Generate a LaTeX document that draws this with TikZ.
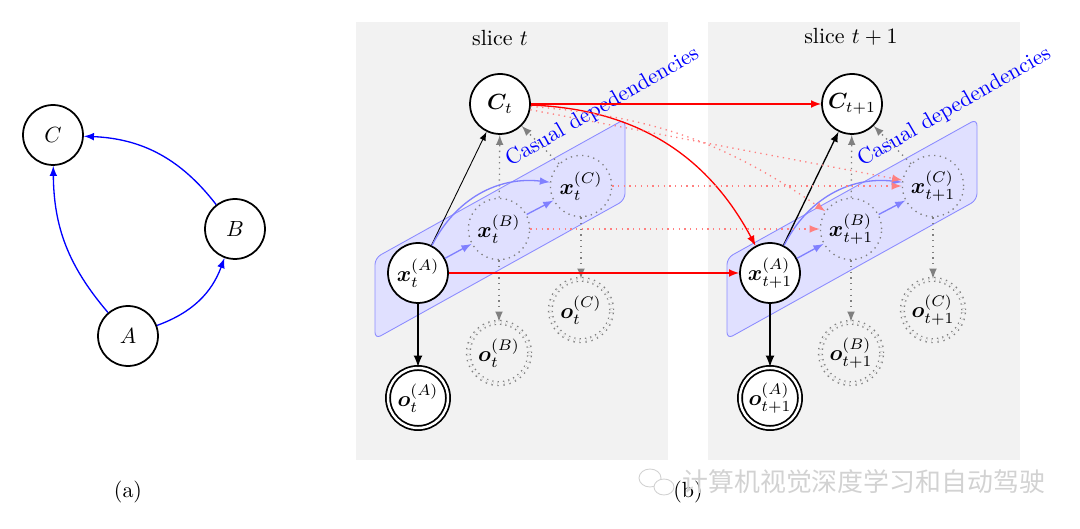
\documentclass[tikz,border=0pt]{standalone}
\usepackage{amsmath,bm}
\usepackage{fontspec}
\newfontfamily\cjk{Noto Sans CJK SC}

\begin{document}
\begin{tikzpicture}[x=0.016cm,y=-0.016cm,
  var/.style={circle,draw,thick,fill=white,minimum size=0.96cm,inner sep=0.5pt},
  obs/.style={var,double,double distance=1.1pt},
  hid/.style={circle,draw=gray,semithick,dotted,minimum size=0.98cm,inner sep=0.5pt},
  hobs/.style={hid,double=black!5,double distance=1.1pt},
  redarr/.style={-latex,red,semithick},
  reddot/.style={-latex,red!50,semithick,dotted},
  grayarr/.style={-latex,gray,semithick,dotted},
  bluearr/.style={-latex,blue!50,semithick},
  plane/.style={blue!45,fill=blue!12,rounded corners=3pt},
  causal/.style={blue,rotate=30,anchor=base west,inner sep=0pt}]

\useasboundingbox (0,0) rectangle (1080,529);

% (a)
\node[var] (C) at (53,135) {$C$};
\node[var] (B) at (235,229) {$B$};
\node[var] (A) at (128,336) {$A$};
\draw[-latex,blue,semithick] (A) to[bend left=20] (C);
\draw[-latex,blue,semithick] (A) to[bend right=25] (B);
\draw[-latex,blue,semithick] (B) to[bend right=25] (C);
\node at (128,492) {(a)};

% slices
\fill[black!5] (356,22) rectangle (668,460);
\fill[black!5] (708,22) rectangle (1020,460);
\node at (500,38) {slice $t$};
\node at (851,37) {slice $t+1$};

\draw[plane] (375,258) -- (625,119) -- (625,200) -- (375,339) -- cycle;
\draw[plane] (727,258) -- (977,119) -- (977,200) -- (727,339) -- cycle;
\node[causal] at (510,167) {Casual depedendencies};
\node[causal] at (862,167) {Casual depedendencies};

% slice t
\node[var] (Ct) at (500,104) {$\bm{C}_t$};
\node[var] (xat) at (418,273) {$\bm{x}_t^{(A)}$};
\node[hid] (xbt) at (499,229) {$\bm{x}_t^{(B)}$};
\node[hid] (xct) at (581,186) {$\bm{x}_t^{(C)}$};
\node[obs] (oat) at (418,398) {$\bm{o}_t^{(A)}$};
\node[hobs] (obt) at (499,353) {$\bm{o}_t^{(B)}$};
\node[hobs] (oct) at (581,310) {$\bm{o}_t^{(C)}$};

% slice t+1
\node[var] (Cn) at (852,104) {$\bm{C}_{t+1}$};
\node[var] (xan) at (770,273) {$\bm{x}_{t+1}^{(A)}$};
\node[hid] (xbn) at (851,229) {$\bm{x}_{t+1}^{(B)}$};
\node[hid] (xcn) at (933,186) {$\bm{x}_{t+1}^{(C)}$};
\node[obs] (oan) at (770,398) {$\bm{o}_{t+1}^{(A)}$};
\node[hobs] (obn) at (851,353) {$\bm{o}_{t+1}^{(B)}$};
\node[hobs] (ocn) at (933,310) {$\bm{o}_{t+1}^{(C)}$};

% inside a slice
\draw[-latex] (xat) -- (Ct);
\draw[-latex,thick] (xat) -- (oat);
\draw[grayarr] (xbt) -- (Ct);
\draw[grayarr] (xct) -- (Ct);
\draw[grayarr] (xbt) -- (obt);
\draw[grayarr] (xct) -- (oct);
\draw[bluearr] (xat) -- (xbt);
\draw[bluearr] (xbt) -- (xct);
\draw[bluearr] (xat) to[bend left=35] (xct);

\draw[-latex,semithick] (xan) -- (Cn);
\draw[-latex,thick] (xan) -- (oan);
\draw[grayarr] (xbn) -- (Cn);
\draw[grayarr] (xcn) -- (Cn);
\draw[grayarr] (xbn) -- (obn);
\draw[grayarr] (xcn) -- (ocn);
\draw[bluearr] (xan) -- (xbn);
\draw[bluearr] (xbn) -- (xcn);
\draw[bluearr] (xan) to[bend left=35] (xcn);

% across slices
\draw[redarr] (Ct) -- (Cn);
\draw[redarr] (Ct) to[bend left=30] (xan);
\draw[redarr] (xat) -- (xan);
\draw[reddot] (Ct) -- (xcn);
\draw[reddot] (Ct) to[bend left=15] (xbn);
\draw[reddot] (xbt) -- (xbn);
\draw[reddot] (xct) -- (xcn);

\node at (688,492) {(b)};

% watermark
\draw[gray!35] (650,478) ellipse (11 and 9);
\draw[gray!35,fill=white] (664,487) ellipse (10 and 8);
\node[text=gray!35,anchor=west,inner sep=0pt] (wm) at (682,482) {\cjk\fontsize{11.8}{14}\selectfont 计算机视觉深度学习和自动驾驶};
\end{tikzpicture}
\end{document}
